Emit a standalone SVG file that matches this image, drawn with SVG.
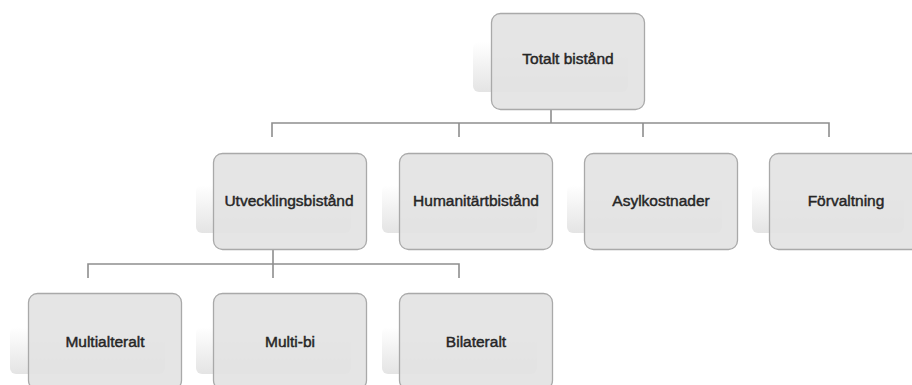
<svg xmlns="http://www.w3.org/2000/svg" width="912" height="385" viewBox="0 0 912 385">
<defs>
<linearGradient id="pg" x1="0" y1="0" x2="0" y2="1">
<stop offset="0" stop-color="#ffffff"/>
<stop offset="1" stop-color="#e4e4e4"/>
</linearGradient>
<style>
.panel{fill:url(#pg);}
.box{fill:#e2e2e2;fill-opacity:0.9;stroke:#a9a9a9;stroke-width:1.3;}
.lbl{font-family:"Liberation Sans",Arial,sans-serif;font-size:15.5px;fill:#262626;text-anchor:middle;stroke:#262626;stroke-width:0.45;}
.con{fill:none;stroke:#8e8e8e;stroke-width:1.6;}
</style>
</defs>
<rect width="912" height="385" fill="#ffffff"/>
<g id="connectors">
<path class="con" d="M551 109 V123 M272 137 V123 H829 V137 M459 123 V137 M643 123 V137"/>
<path class="con" d="M273 249 V278 M88 278 V264 H459 V278"/>
</g>
<g id="n-totalt">
<rect class="panel" x="473" y="42" width="155" height="50" rx="6"/>
<rect class="box" x="491.5" y="13.5" width="153" height="96" rx="9"/>
<text class="lbl" x="568" y="64">Totalt bistånd</text>
</g>
<g id="n-utveckling">
<rect class="panel" x="196" y="185" width="155" height="48" rx="6"/>
<rect class="box" x="213.5" y="153.5" width="153" height="96" rx="9"/>
<text class="lbl" x="289" y="206">Utvecklingsbistånd</text>
</g>
<g id="n-humanitart">
<rect class="panel" x="382" y="185" width="155" height="48" rx="6"/>
<rect class="box" x="399.5" y="153.5" width="153" height="96" rx="9"/>
<text class="lbl" x="476" y="206">Humanitärtbistånd</text>
</g>
<g id="n-asyl">
<rect class="panel" x="567" y="185" width="155" height="48" rx="6"/>
<rect class="box" x="584.5" y="153.5" width="153" height="96" rx="9"/>
<text class="lbl" x="661" y="206">Asylkostnader</text>
</g>
<g id="n-forvaltning">
<rect class="panel" x="752" y="185" width="152" height="48" rx="6"/>
<rect class="box" x="769.5" y="153.5" width="153" height="96" rx="9"/>
<text class="lbl" x="846" y="206">Förvaltning</text>
</g>
<g id="n-multilateralt">
<rect class="panel" x="10" y="327" width="155" height="47" rx="6"/>
<rect class="box" x="28.5" y="293.5" width="153" height="96" rx="9"/>
<text class="lbl" x="105" y="347">Multialteralt</text>
</g>
<g id="n-multibi">
<rect class="panel" x="196" y="327" width="155" height="47" rx="6"/>
<rect class="box" x="213.5" y="293.5" width="153" height="96" rx="9"/>
<text class="lbl" x="290" y="347">Multi-bi</text>
</g>
<g id="n-bilateralt">
<rect class="panel" x="382" y="327" width="155" height="47" rx="6"/>
<rect class="box" x="399.5" y="293.5" width="153" height="96" rx="9"/>
<text class="lbl" x="476" y="347">Bilateralt</text>
</g>
</svg>
